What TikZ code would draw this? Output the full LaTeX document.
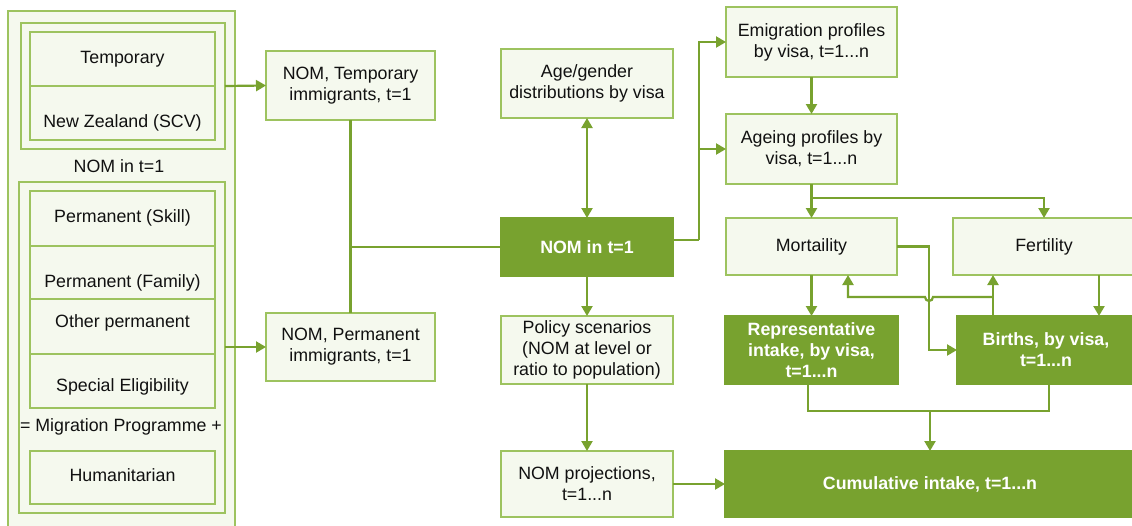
\documentclass[tikz,border=0pt]{standalone}
\usepackage{fontspec}
\setmainfont{Liberation Sans}
\usetikzlibrary{arrows.meta,calc}
\definecolor{dkgreen}{HTML}{78A22F}
\definecolor{ltfill}{HTML}{F5F9EE}
\definecolor{ltborder}{HTML}{9DC35F}
\definecolor{txtc}{HTML}{111111}
\tikzset{
  base/.style={inner sep=0pt, outer sep=0pt, align=center, font=\fontsize{17.8}{21}\selectfont},
  lbox/.style={base, draw=ltborder, fill=ltfill, line width=1.5pt, text=txtc},
  dbox/.style={base, draw=dkgreen, fill=dkgreen, line width=1.5pt, text=white, font=\fontsize{17.8}{21}\selectfont\bfseries},
  grp/.style={base, draw=ltborder, fill=ltfill, line width=1.3pt},
  cellbox/.style={base, draw=ltborder, fill=ltfill, line width=1.5pt},
  txt/.style={base, text=txtc},
  conn/.style={draw=dkgreen, line width=2.2pt},
  arr/.style={conn, -{Triangle[length=10pt,width=11pt]}},
  darr/.style={conn, {Triangle[length=10pt,width=11pt]}-{Triangle[length=10pt,width=11pt]}},
}
\begin{document}
\begin{tikzpicture}[x=1pt,y=-1pt]
\useasboundingbox (0,0) rectangle (1132,525);
\clip (0,0) rectangle (1132,525);
\fill[white] (0,0) rectangle (1132,525);
% left column
\node[grp, minimum width=227, minimum height=520] (outer) at (121.5,271) {};
\node[grp, minimum width=204, minimum height=126] (tgroup) at (123,86) {};
\node[cellbox, minimum width=185, minimum height=54] (tempc) at (122.5,59) {};
\node[cellbox, minimum width=185, minimum height=54] (nzc) at (122.5,113) {};
\node[txt] (tempt) at (122.5,59) {Temporary};
\node[txt] (nzt) at (122.5,123) {New Zealand (SCV)};
\node[txt] (nomlbl) at (119,166) {NOM in t=1};
\node[grp, minimum width=206, minimum height=331] (pgroup) at (122,347.5) {};
\node[cellbox, minimum width=185, minimum height=55] (skillc) at (122.5,218.5) {};
\node[cellbox, minimum width=185, minimum height=53] (famc) at (122.5,272.5) {};
\node[cellbox, minimum width=185, minimum height=55] (othc) at (122.5,326.5) {};
\node[cellbox, minimum width=185, minimum height=54] (spec) at (122.5,381) {};
\node[cellbox, minimum width=185, minimum height=53] (humc) at (122.5,477.5) {};
\node[txt] (skillt) at (122.5,218) {Permanent (Skill)};
\node[txt] (famt) at (122.5,283) {Permanent (Family)};
\node[txt] (otht) at (122.5,323) {Other permanent};
\node[txt] (spet) at (122.5,387) {Special Eligibility};
\node[txt] (migt) at (121,427) {= Migration Programme +};
\node[txt] (humt) at (122.5,475) {Humanitarian};
% middle
\node[lbox, minimum width=169, minimum height=69] (ntemp) at (350.5,85.5) {NOM, Temporary\\immigrants, t=1};
\node[lbox, minimum width=169, minimum height=68] (nperm) at (350.5,347) {NOM, Permanent\\immigrants, t=1};
\node[lbox, minimum width=172, minimum height=69] (age) at (587,83.5) {Age/gender\\distributions by visa};
\node[dbox, minimum width=172, minimum height=58] (nom) at (587,247) {NOM in t=1};
\node[lbox, minimum width=172, minimum height=68] (policy) at (587,350) {Policy scenarios\\(NOM at level or\\ratio to population)};
\node[lbox, minimum width=172, minimum height=66] (proj) at (587,484) {NOM projections,\\t=1...n};
% right
\node[lbox, minimum width=171, minimum height=70] (emig) at (811.5,42) {Emigration profiles\\by visa, t=1...n};
\node[lbox, minimum width=171, minimum height=70] (ageing) at (811.5,149) {Ageing profiles by\\visa, t=1...n};
\node[lbox, minimum width=171, minimum height=57] (mort) at (811.5,246.5) {Mortaility};
\node[lbox, minimum width=182, minimum height=57] (fert) at (1044,246.5) {Fertility};
\node[dbox, minimum width=173, minimum height=68] (rep) at (811.5,350) {Representative\\intake, by visa,\\t=1...n};
\node[dbox, minimum width=178, minimum height=68] (births) at (1046,350) {Births, by visa,\\t=1...n};
\node[dbox, minimum width=410, minimum height=66] (cum) at (930,484) {Cumulative intake, t=1...n};
% connectors
\draw[arr] (tgroup.east) -- (ntemp.west);
\draw[arr] (pgroup.east |- nperm.west) -- (nperm.west);
\draw[conn] (ntemp.south) -- (nperm.north);
\draw[conn] (ntemp.south |- nom.west) -- (nom.west);
\draw[darr] (age.south) -- (nom.north);
\draw[arr] (nom.south) -- (policy.north);
\draw[arr] (policy.south) -- (proj.north);
\draw[arr] (proj.east) -- (cum.west);
\coordinate (j1) at (699,240);
\draw[conn] ($(nom.east)+(0,-7)$) -- (j1);
\draw[arr] (j1) |- (emig.west);
\draw[arr] (j1 |- ageing.west) -- (ageing.west);
\draw[arr] (emig.south) -- (ageing.north);
\draw[arr] (ageing.south) -- (mort.north);
\coordinate (j2) at (811.5,198);
\draw[arr] (j2) -| (fert.north);
\draw[arr] (mort.east) -| (929,350) -- (births.west);
\coordinate (bt) at (993,316);
\coordinate (hop) at (993,297);
\draw[arr] (bt) -- (bt |- fert.south);
\draw[arr] (hop) -- (933,297) arc[start angle=0, end angle=180, radius=4] -- (848,297) -- (848,275);
\draw[arr] (mort.south) -- (rep.north);
\draw[arr] (1099,275) -- (1099,316);
\coordinate (rb) at (808,384);
\coordinate (bb) at (1049,384);
\draw[conn] (rb) -- (808,411) -- (1049,411) -- (bb);
\draw[arr] (930,411) -- (cum.north);
\end{tikzpicture}
\end{document}
